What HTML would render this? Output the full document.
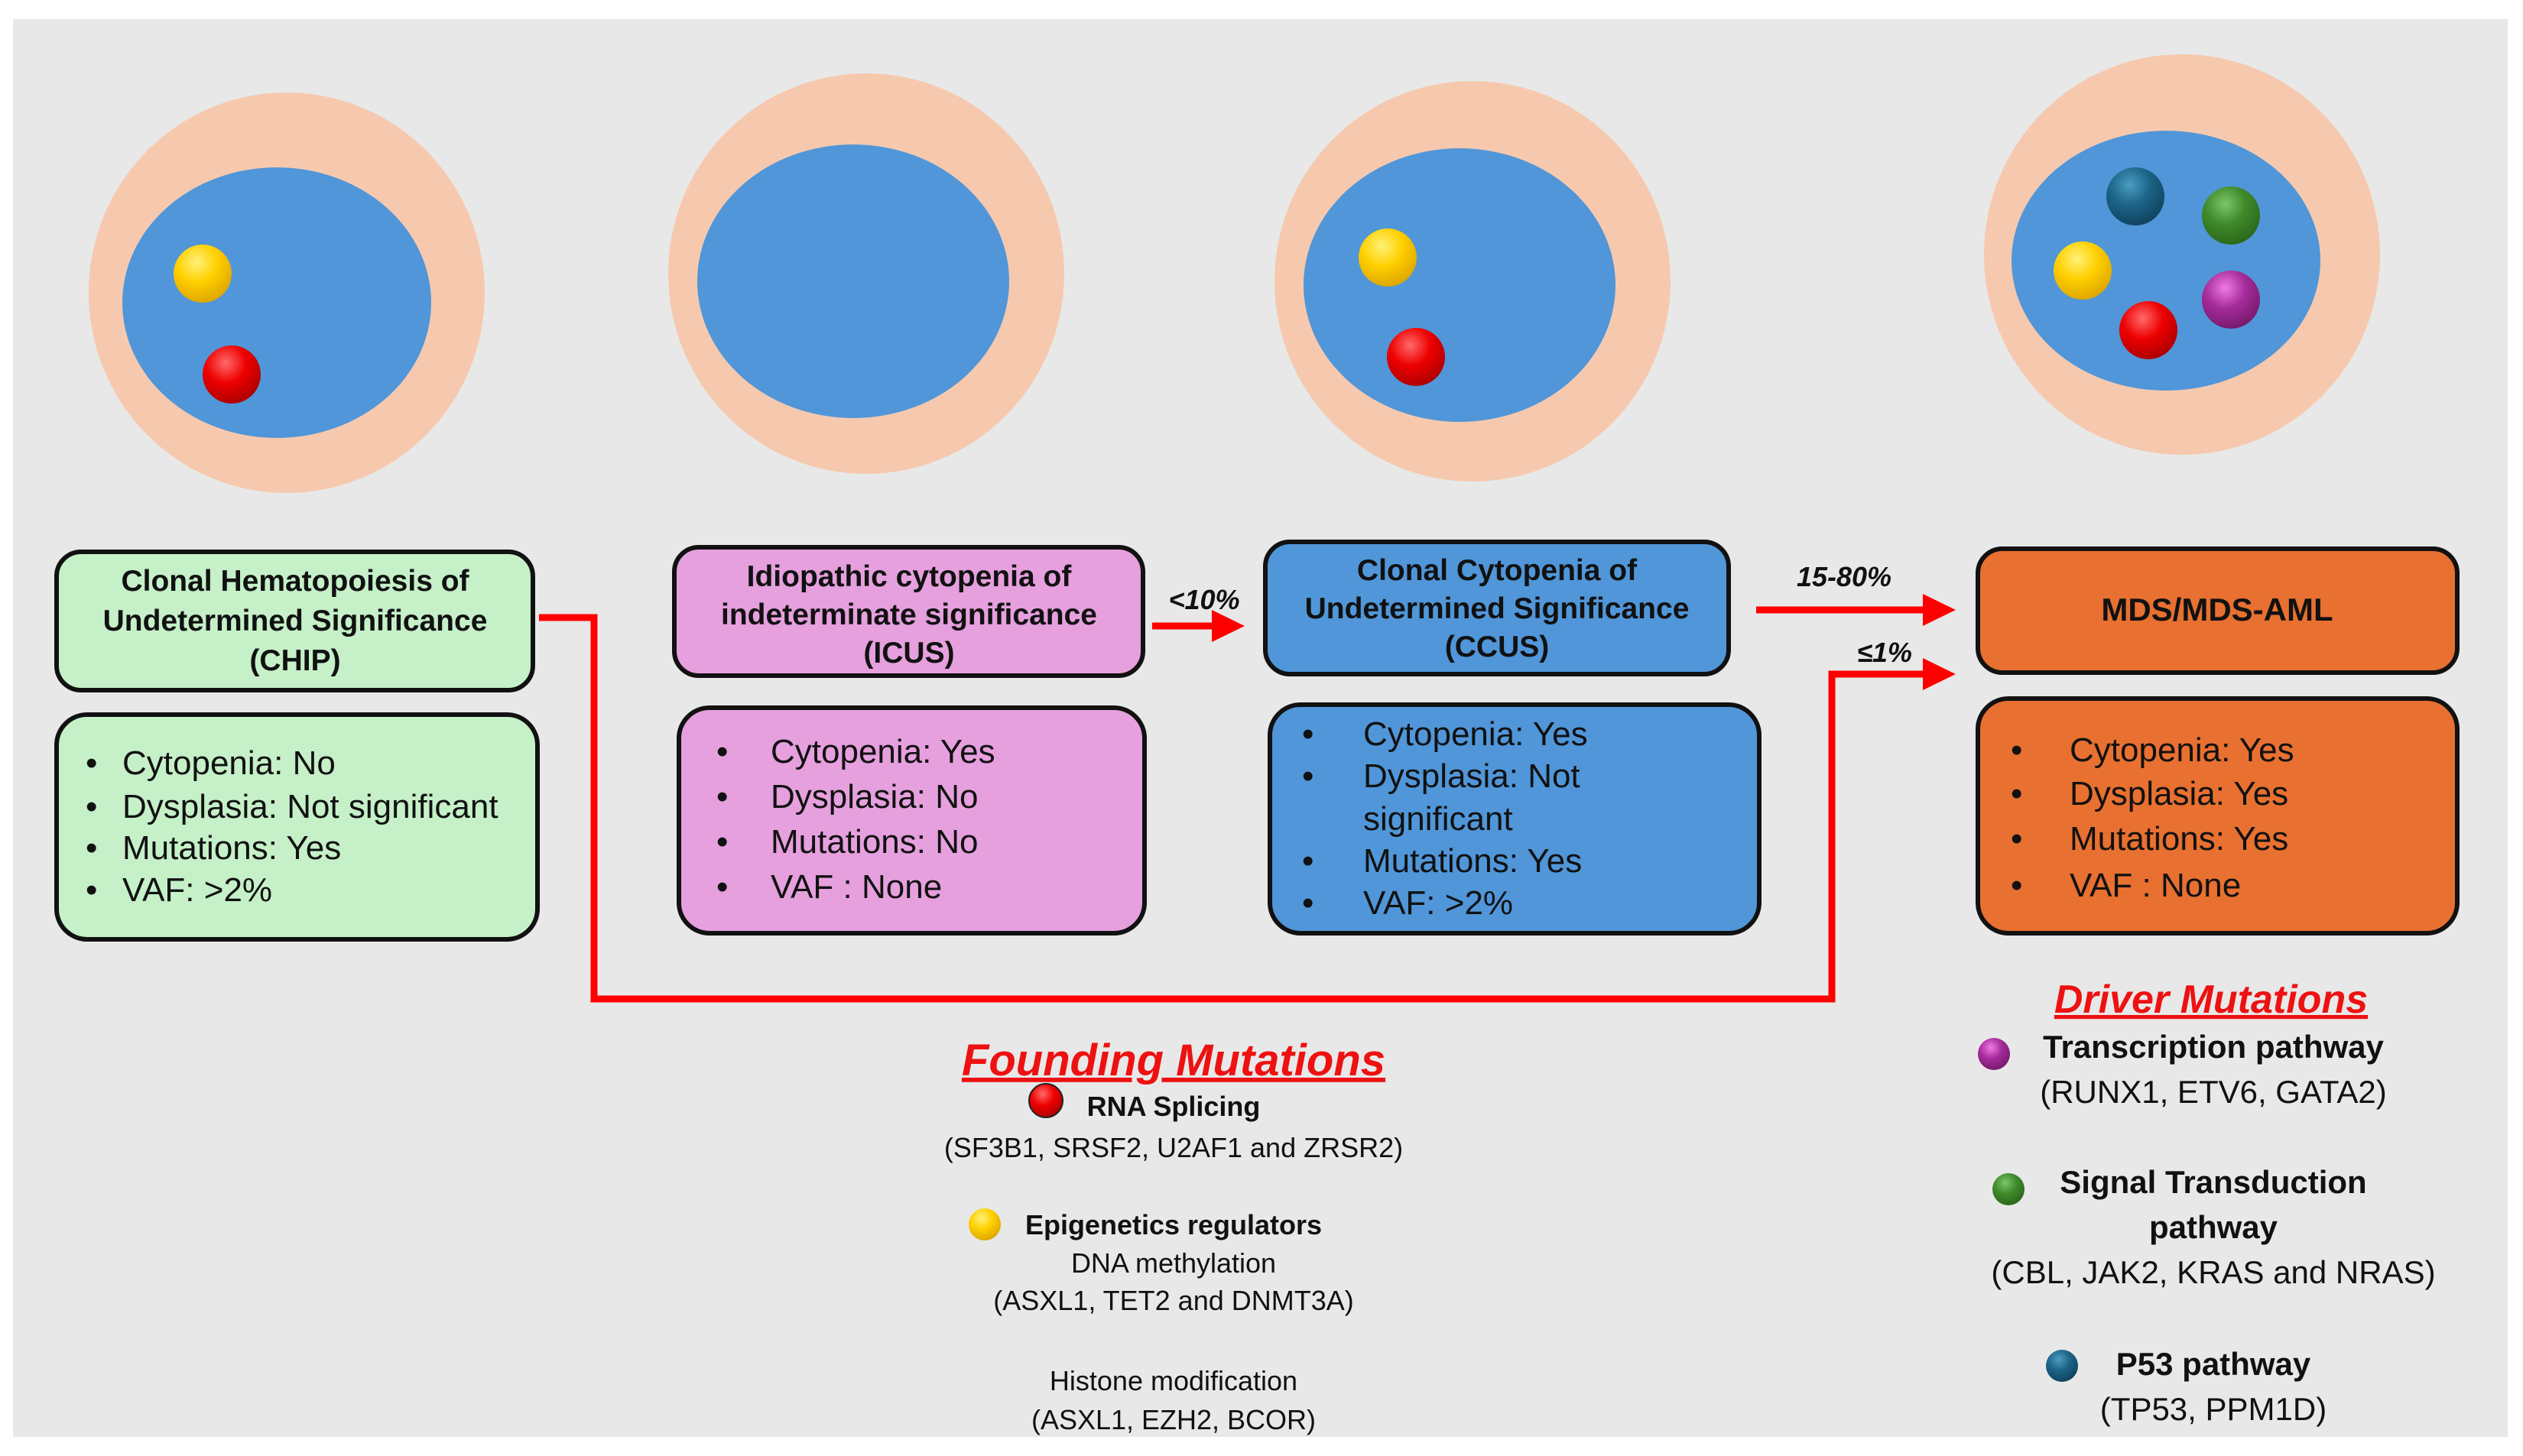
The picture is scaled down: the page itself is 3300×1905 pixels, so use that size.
<!DOCTYPE html>
<html><head><meta charset="utf-8"><style>
html,body{margin:0;padding:0;background:#fff;}
svg{display:block;}
text{font-family:"Liberation Sans",sans-serif;}
</style></head><body>
<svg width="3300" height="1905" viewBox="0 0 3300 1905" xmlns="http://www.w3.org/2000/svg">
<defs>
<radialGradient id="gy" cx="40%" cy="30%" r="70%"><stop offset="0" stop-color="#fff27a"/><stop offset="0.5" stop-color="#ffd000"/><stop offset="1" stop-color="#e0a800"/></radialGradient>
<radialGradient id="gr" cx="40%" cy="30%" r="70%"><stop offset="0" stop-color="#ff6a6a"/><stop offset="0.5" stop-color="#ee0000"/><stop offset="1" stop-color="#b00000"/></radialGradient>
<radialGradient id="gg" cx="40%" cy="30%" r="70%"><stop offset="0" stop-color="#7cc66a"/><stop offset="0.5" stop-color="#3f8a2a"/><stop offset="1" stop-color="#2c6a1c"/></radialGradient>
<radialGradient id="gp" cx="40%" cy="30%" r="70%"><stop offset="0" stop-color="#f07ae6"/><stop offset="0.5" stop-color="#a52c9a"/><stop offset="1" stop-color="#7a1a70"/></radialGradient>
<radialGradient id="gt" cx="40%" cy="30%" r="70%"><stop offset="0" stop-color="#4a9cc0"/><stop offset="0.5" stop-color="#1c6488"/><stop offset="1" stop-color="#104560"/></radialGradient>
</defs>
<rect x="17" y="25" width="3263" height="1855" fill="#e8e8e8"/>

<g>
<ellipse cx="375" cy="383" rx="259" ry="262" fill="#f6c9ae"/>
<ellipse cx="362" cy="396" rx="202" ry="177" fill="#5096d9"/>
<ellipse cx="265" cy="358" rx="38" ry="38" fill="url(#gy)"/>
<ellipse cx="303" cy="490" rx="38" ry="38" fill="url(#gr)"/>

<ellipse cx="1133" cy="358" rx="259" ry="262" fill="#f6c9ae"/>
<ellipse cx="1116" cy="368" rx="204" ry="179" fill="#5096d9"/>

<ellipse cx="1926" cy="368" rx="259" ry="262" fill="#f6c9ae"/>
<ellipse cx="1909" cy="373" rx="204" ry="179" fill="#5096d9"/>
<ellipse cx="1815" cy="337" rx="38" ry="38" fill="url(#gy)"/>
<ellipse cx="1852" cy="467" rx="38" ry="38" fill="url(#gr)"/>

<ellipse cx="2854" cy="333" rx="259" ry="262" fill="#f6c9ae"/>
<ellipse cx="2833" cy="341" rx="202" ry="170" fill="#5096d9"/>
<ellipse cx="2793" cy="257" rx="38" ry="38" fill="url(#gt)"/>
<ellipse cx="2918" cy="282" rx="38" ry="38" fill="url(#gg)"/>
<ellipse cx="2724" cy="354" rx="38" ry="38" fill="url(#gy)"/>
<ellipse cx="2918" cy="392" rx="38" ry="38" fill="url(#gp)"/>
<ellipse cx="2810" cy="432" rx="38" ry="38" fill="url(#gr)"/>
</g>

<g stroke="#111" stroke-width="6">
<rect x="74" y="722" width="623" height="181" rx="32" fill="#c5f0c8"/>
<rect x="74" y="935" width="629" height="294" rx="40" fill="#c5f0c8"/>
<rect x="882" y="716" width="613" height="168" rx="32" fill="#e6a0de"/>
<rect x="888" y="926" width="609" height="295" rx="40" fill="#e6a0de"/>
<rect x="1655" y="709" width="606" height="173" rx="32" fill="#5096d9"/>
<rect x="1661" y="922" width="640" height="299" rx="40" fill="#5096d9"/>
<rect x="2587" y="718" width="627" height="162" rx="32" fill="#e87030"/>
<rect x="2587" y="914" width="627" height="307" rx="40" fill="#e87030"/>
</g>

<g fill="none" stroke="#ff0000" stroke-width="9">
<polyline points="705,808 777,808 777,1307 2396,1307 2396,882 2520,882"/>
<line x1="1507" y1="819" x2="1590" y2="819"/>
<line x1="2297" y1="798" x2="2520" y2="798"/>
</g>
<g fill="#ff0000">
<polygon points="1585,798 1628,819 1585,840"/>
<polygon points="2515,777 2558,798 2515,819"/>
<polygon points="2515,861 2558,882 2515,903"/>
</g>
<g font-weight="bold" font-style="italic" font-size="36" fill="#111">
<text x="1575" y="797" text-anchor="middle">&lt;10%</text>
<text x="2412" y="767" text-anchor="middle">15-80%</text>
<text x="2465" y="866" text-anchor="middle">≤1%</text>
</g>

<g font-weight="bold" font-size="39" fill="#111" text-anchor="middle">
<text x="386" y="773">Clonal Hematopoiesis of</text>
<text x="386" y="825">Undetermined Significance</text>
<text x="386" y="877">(CHIP)</text>
<text x="1189" y="767">Idiopathic cytopenia of</text>
<text x="1189" y="817">indeterminate significance</text>
<text x="1189" y="867">(ICUS)</text>
<text x="1958" y="759">Clonal Cytopenia of</text>
<text x="1958" y="809">Undetermined Significance</text>
<text x="1958" y="859">(CCUS)</text>
<text x="2900" y="812" font-size="42">MDS/MDS-AML</text>
</g>

<g font-size="44" fill="#111">
<text x="112" y="1013">•</text><text x="160" y="1013">Cytopenia: No</text>
<text x="112" y="1070">•</text><text x="160" y="1070">Dysplasia: Not significant</text>
<text x="112" y="1124">•</text><text x="160" y="1124">Mutations: Yes</text>
<text x="112" y="1179">•</text><text x="160" y="1179">VAF: &gt;2%</text>

<text x="937" y="998">•</text><text x="1008" y="998">Cytopenia: Yes</text>
<text x="937" y="1057">•</text><text x="1008" y="1057">Dysplasia: No</text>
<text x="937" y="1116">•</text><text x="1008" y="1116">Mutations: No</text>
<text x="937" y="1175">•</text><text x="1008" y="1175">VAF : None</text>

<text x="1703" y="975">•</text><text x="1783" y="975">Cytopenia: Yes</text>
<text x="1703" y="1030">•</text><text x="1783" y="1030">Dysplasia: Not</text>
<text x="1783" y="1086">significant</text>
<text x="1703" y="1141">•</text><text x="1783" y="1141">Mutations: Yes</text>
<text x="1703" y="1196">•</text><text x="1783" y="1196">VAF: &gt;2%</text>

<text x="2630" y="996">•</text><text x="2707" y="996">Cytopenia: Yes</text>
<text x="2630" y="1053">•</text><text x="2707" y="1053">Dysplasia: Yes</text>
<text x="2630" y="1112">•</text><text x="2707" y="1112">Mutations: Yes</text>
<text x="2630" y="1173">•</text><text x="2707" y="1173">VAF : None</text>
</g>

<text x="1535" y="1407" text-anchor="middle" font-size="58" font-weight="bold" font-style="italic" fill="#ee1111" text-decoration="underline">Founding Mutations</text>
<circle cx="1368" cy="1440" r="22" fill="url(#gr)" stroke="#222" stroke-width="2"/>
<g font-size="36" fill="#111" text-anchor="middle">
<text x="1535" y="1460" font-weight="bold">RNA Splicing</text>
<text x="1535" y="1514">(SF3B1, SRSF2, U2AF1 and ZRSR2)</text>
<text x="1535" y="1615" font-weight="bold">Epigenetics regulators</text>
<text x="1535" y="1665">DNA methylation</text>
<text x="1535" y="1714">(ASXL1, TET2 and DNMT3A)</text>
<text x="1535" y="1819">Histone modification</text>
<text x="1535" y="1870">(ASXL1, EZH2, BCOR)</text>
</g>
<circle cx="1288" cy="1602" r="21" fill="url(#gy)"/>

<text x="2892" y="1325" text-anchor="middle" font-size="52" font-weight="bold" font-style="italic" fill="#ee1111" text-decoration="underline">Driver Mutations</text>
<circle cx="2608" cy="1379" r="21" fill="url(#gp)"/>
<circle cx="2627" cy="1556" r="21" fill="url(#gg)"/>
<circle cx="2697" cy="1787" r="21" fill="url(#gt)"/>
<g font-size="42" fill="#111" text-anchor="middle">
<text x="2895" y="1384" font-weight="bold">Transcription pathway</text>
<text x="2895" y="1443">(RUNX1, ETV6, GATA2)</text>
<text x="2895" y="1561" font-weight="bold">Signal Transduction</text>
<text x="2895" y="1620" font-weight="bold">pathway</text>
<text x="2895" y="1679">(CBL, JAK2, KRAS and NRAS)</text>
<text x="2895" y="1799" font-weight="bold">P53 pathway</text>
<text x="2895" y="1858">(TP53, PPM1D)</text>
</g>
</svg>
</body></html>
